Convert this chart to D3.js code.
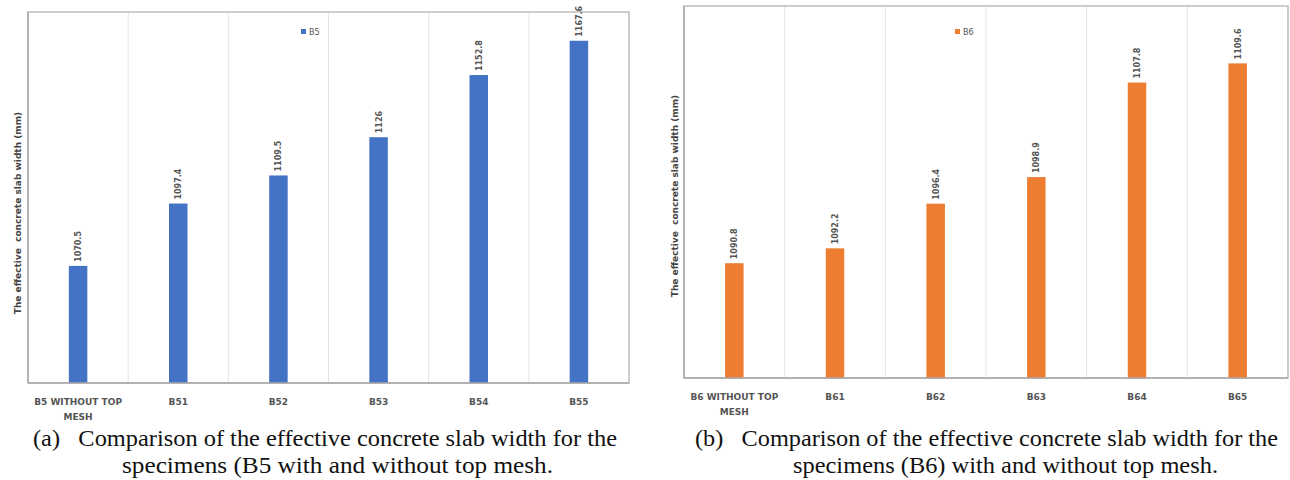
<!DOCTYPE html>
<html>
<head>
<meta charset="utf-8">
<script src="https://cdn.jsdelivr.net/npm/d3@7/dist/d3.min.js"></script>
<style>
  html, body { margin: 0; padding: 0; background: #fff; }
  svg { display: block; }
  .caption { font-family: "Liberation Serif", "Times New Roman", Times, serif; font-size: 24px; fill: #111; }
</style>
</head>
<body>
<svg id="chart" width="1290" height="480"></svg>
<script>
// Specimen groups and their effective concrete slab widths (mm)
const categoriesB5 = ["B5 WITHOUT TOP MESH", "B51", "B52", "B53", "B54", "B55"];
const valuesB5 = [1070.5, 1097.4, 1109.5, 1126, 1152.8, 1167.6];
const labelsB5 = ["1070.5", "1097.4", "1109.5", "1126", "1152.8", "1167.6"];

const categoriesB6 = ["B6 WITHOUT TOP MESH", "B61", "B62", "B63", "B64", "B65"];
const valuesB6 = [1090.8, 1092.2, 1096.4, 1098.9, 1107.8, 1109.6];
const labelsB6 = ["1090.8", "1092.2", "1096.4", "1098.9", "1107.8", "1109.6"];

const yTitle = "The effective  concrete slab width (mm)";

const svg = d3.select("#chart");

function panel(cfg) {
  const { left, right, top, bottom, categories, values, labels, domain,
          color, legend, legendX, titleX, titleY, caption1, caption2 } = cfg;

  const g = svg.append("g");

  const x = d3.scaleBand().domain(categories).range([left, right]).paddingInner(0).paddingOuter(0);
  const y = d3.scaleLinear().domain(domain).range([bottom, top]);

  // vertical gridlines at category boundaries
  g.selectAll("line.grid")
    .data(categories.slice(1))
    .join("line")
    .attr("class", "grid")
    .attr("x1", d => x(d)).attr("x2", d => x(d))
    .attr("y1", top).attr("y2", bottom)
    .attr("stroke", "#e3e3e3").attr("stroke-width", 1);

  // plot frame
  g.append("rect")
    .attr("x", left).attr("y", top)
    .attr("width", right - left).attr("height", bottom - top)
    .attr("fill", "none").attr("stroke", "#bdbdbd").attr("stroke-width", 1.5);

  // bars
  const bw = 18.5;
  g.selectAll("rect.bar")
    .data(values)
    .join("rect")
    .attr("class", "bar")
    .attr("x", (d, i) => x(categories[i]) + x.bandwidth() / 2 - bw / 2)
    .attr("y", d => y(d))
    .attr("width", bw)
    .attr("height", d => y(domain[0]) - y(d))
    .attr("fill", color);

  // axis lines drawn over the frame
  g.append("line").attr("x1", left).attr("x2", right).attr("y1", bottom).attr("y2", bottom)
    .attr("stroke", "#a8a8a8").attr("stroke-width", 1.5);
  g.append("line").attr("x1", left).attr("x2", left).attr("y1", top).attr("y2", bottom)
    .attr("stroke", "#a8a8a8").attr("stroke-width", 1.5);

  // value labels, rotated, just above each bar
  g.selectAll("text.val")
    .data(values)
    .join("text")
    .attr("class", "val")
    .attr("transform", (d, i) => `translate(${x(categories[i]) + x.bandwidth() / 2 + 3},${y(d) - 4}) rotate(-90)`)
    .attr("font-family", "'DejaVu Sans', sans-serif")
    .attr("font-size", 8)
    .attr("font-weight", "bold")
    .attr("fill", "#555")
    .text((d, i) => labels[i]);

  // category labels (two lines for the long one)
  const xl = g.selectAll("text.cat")
    .data(categories)
    .join("text")
    .attr("class", "cat")
    .attr("text-anchor", "middle")
    .attr("font-family", "'DejaVu Sans', sans-serif")
    .attr("font-size", 9)
    .attr("font-weight", "bold")
    .attr("fill", "#555");
  xl.each(function (d) {
    const cx = x(d) + x.bandwidth() / 2;
    const parts = d.length > 10 ? [d.replace(/ MESH$/, ""), "MESH"] : [d];
    d3.select(this).selectAll("tspan")
      .data(parts)
      .join("tspan")
      .attr("x", cx)
      .attr("y", (p, k) => bottom + 22 + k * 15)
      .text(p => p);
  });

  // legend
  const lg = g.append("g").attr("transform", `translate(${legendX},${top + cfg.legendDy})`);
  lg.append("rect").attr("x", 0).attr("y", -4).attr("width", 5).attr("height", 5).attr("fill", color);
  lg.append("text").attr("x", 8).attr("y", 1.5)
    .attr("font-family", "'DejaVu Sans', sans-serif").attr("font-size", 8)
    .attr("fill", "#555").text(legend);

  // y-axis title
  g.append("text")
    .attr("transform", `translate(${titleX},${titleY}) rotate(-90)`)
    .attr("text-anchor", "middle")
    .attr("font-family", "'DejaVu Sans', sans-serif")
    .attr("font-size", 9)
    .attr("font-weight", "bold")
    .attr("fill", "#444")
    .style("white-space", "pre")
    .text(yTitle);

  // caption below the chart, set in a condensed serif
  g.append("text").attr("class", "caption").attr("x", caption1.x).attr("y", 446)
    .attr("textLength", caption1.w).attr("lengthAdjust", "spacingAndGlyphs")
    .style("white-space", "pre")
    .text(caption1.t);
  g.append("text").attr("class", "caption").attr("x", caption2.x).attr("y", 473)
    .attr("textLength", caption2.w).attr("lengthAdjust", "spacingAndGlyphs")
    .text(caption2.t);
}

panel({
  left: 28, right: 629, top: 12, bottom: 383,
  categories: categoriesB5, values: valuesB5, labels: labelsB5,
  domain: [1020, 1180], color: "#4472c4",
  legend: "B5", legendX: 301, legendDy: 21,
  titleX: 21, titleY: 213,
  caption1: { x: 33, w: 584, t: "(a)   Comparison of the effective concrete slab width for the" },
  caption2: { x: 122, w: 431, t: "specimens (B5 with and without top mesh." }
});

panel({
  left: 684, right: 1288, top: 6, bottom: 378,
  categories: categoriesB6, values: valuesB6, labels: labelsB6,
  domain: [1080, 1115], color: "#ed7d31",
  legend: "B6", legendX: 955, legendDy: 27,
  titleX: 678, titleY: 196,
  caption1: { x: 695, w: 583, t: "(b)   Comparison of the effective concrete slab width for the" },
  caption2: { x: 793, w: 425, t: "specimens (B6) with and without top mesh." }
});
</script>
</body>
</html>
